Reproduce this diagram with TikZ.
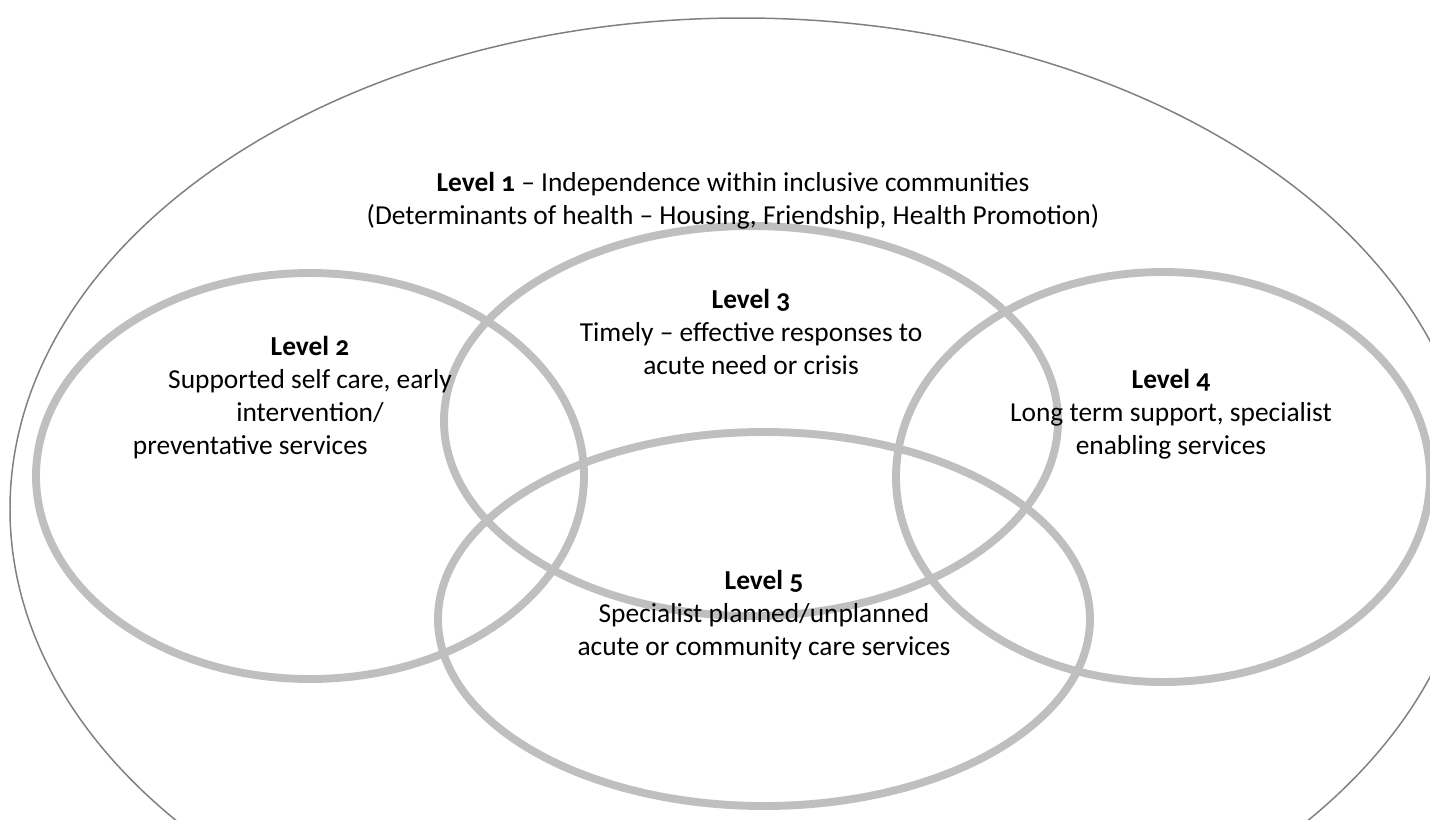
\documentclass[tikz,border=0pt]{standalone}
\usepackage{fontspec}
\setmainfont{Carlito}[Numbers=OldStyle]

\begin{document}
\begin{tikzpicture}[x=0.02cm,y=-0.02cm,
  outerring/.style={draw=black!50,line width=0.85pt},
  ring/.style={draw=black!25,line width=4.5pt},
  lvltext/.style={align=center,inner sep=0pt,font=\fontsize{15.6}{18.8}\selectfont}]
\clip (0,0) rectangle (1430,819);
\draw[outerring] (742,509) ellipse [x radius=732,y radius=491];
\draw[ring] (310,476) ellipse [x radius=274,y radius=203];
\draw[ring] (751,421) ellipse [x radius=307,y radius=195];
\draw[ring] (1163,477) ellipse [x radius=267,y radius=205];
\draw[ring] (764,619) ellipse [x radius=326,y radius=187];
\node[lvltext] (lvlone) at (733,201) {\textbf{Level 1} – Independence within inclusive communities\\(Determinants of health – Housing, Friendship, Health Promotion)};
\node[lvltext] (lvltwo) at (310,398) {\textbf{Level 2}\\Supported self care, early\\intervention/\\preventative services\hspace*{68pt}};
\node[lvltext] (lvlthree) at (751,332) {\textbf{Level 3}\\Timely – effective responses to\\acute need or crisis};
\node[lvltext] (lvlfour) at (1171,414) {\textbf{Level 4}\\Long term support, specialist\\enabling services};
\node[lvltext] (lvlfive) at (764,615) {\textbf{Level 5}\\Specialist planned/unplanned\\acute or community care services};
\end{tikzpicture}
\end{document}
